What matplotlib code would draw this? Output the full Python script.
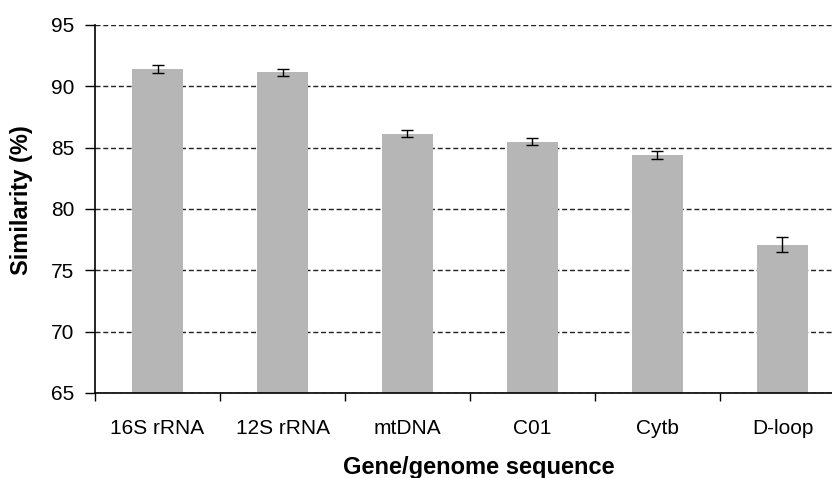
import matplotlib
matplotlib.use("Agg")
import matplotlib.pyplot as plt
import numpy as np

plt.rcParams['font.family'] = ['Liberation Sans', 'DejaVu Sans']

genes = ["16S rRNA", "12S rRNA", "mtDNA", "C01", "Cytb", "D-loop"]
similarity = [91.4, 91.15, 86.15, 85.5, 84.4, 77.1]
errors = [0.3, 0.3, 0.3, 0.3, 0.3, 0.65]


def main():
    fig = plt.figure(figsize=(8.32, 4.78), dpi=100)
    ax = fig.add_axes([0.1142, 0.178, 0.9014, 0.7697])

    x = np.arange(len(genes))
    ax.bar(x, [v - 65 for v in similarity], bottom=65, width=0.41,
           color='#b5b6b5', zorder=2)
    ax.errorbar(x, similarity, yerr=errors, fmt='none', ecolor='black',
                elinewidth=1, capsize=4.6, capthick=1, zorder=3)

    ax.set_xlim(-0.5, len(genes) - 0.5)
    ax.set_ylim(65, 95)
    ax.set_yticks(range(65, 96, 5))
    ax.yaxis.grid(True, linestyle=(0, (3.6, 2)), color='#222222', linewidth=1, zorder=1)
    ax.set_axisbelow(True)

    # category boundaries as ticks, labels in the middle
    ax.set_xticks(np.arange(-0.5, len(genes), 1.0))
    ax.set_xticklabels([])
    ax.set_xticks(x, minor=True)
    ax.set_xticklabels(genes, minor=True)
    ax.tick_params(axis='x', which='major', length=6, width=1, direction='out')
    ax.tick_params(axis='x', which='minor', length=0, pad=19, labelsize=15)
    ax.tick_params(axis='y', length=7, width=1, direction='out', labelsize=15, pad=8)

    for side in ('top', 'right'):
        ax.spines[side].set_visible(False)
    for side in ('left', 'bottom'):
        ax.spines[side].set_linewidth(1.2)

    ax.set_ylabel('Similarity (%)', fontsize=17, fontweight='bold')
    ax.yaxis.set_label_coords(-0.0827, 0.524)
    ax.set_xlabel('Gene/genome sequence', fontsize=17, fontweight='bold', va='baseline')
    ax.xaxis.set_label_coords(0.512, -0.22)

    plt.savefig("out.png", dpi=100)


if __name__ == '__main__':
    main()
